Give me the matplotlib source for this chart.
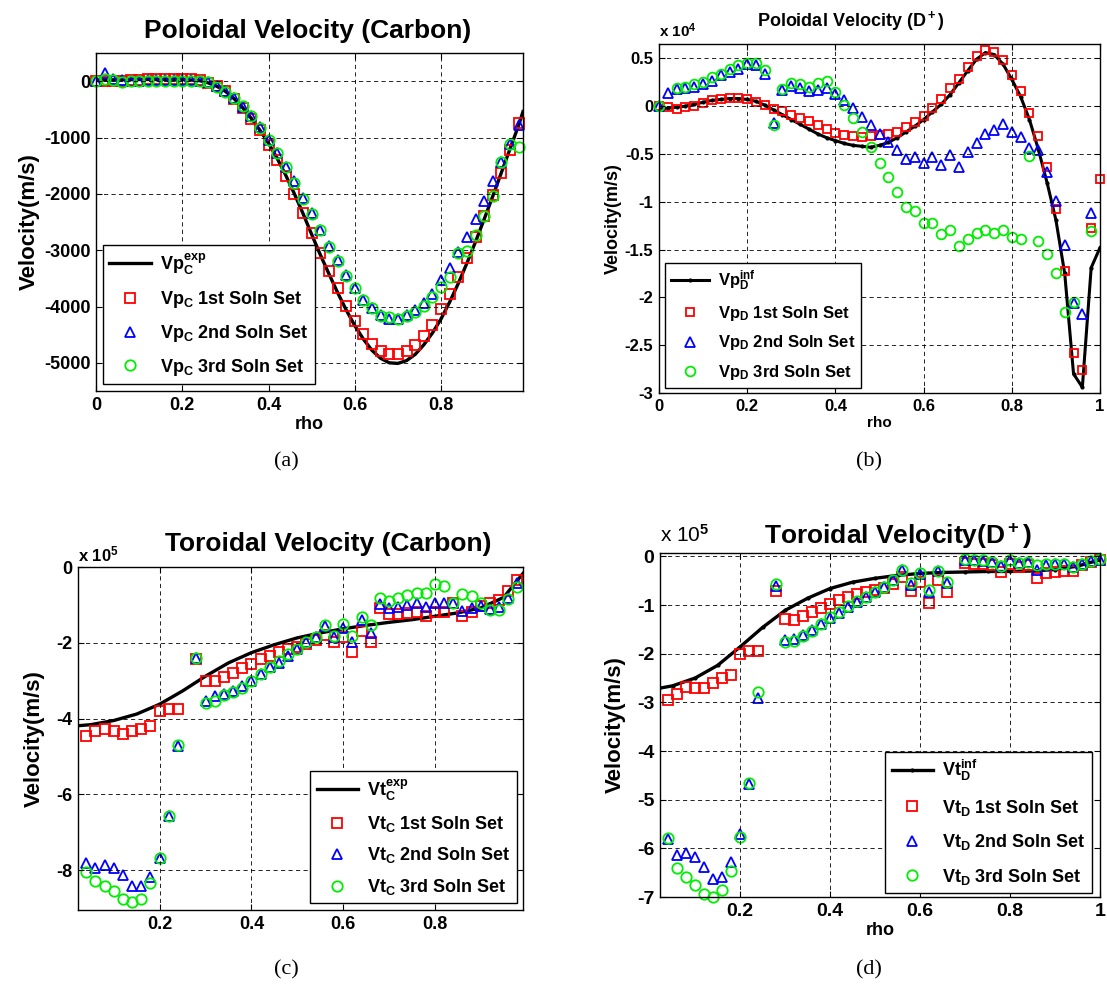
import matplotlib
matplotlib.use('Agg')
import matplotlib.pyplot as plt
from matplotlib.ticker import FuncFormatter
import numpy as np

plt.rcParams['font.family'] = 'Liberation Sans'
plt.rcParams['font.weight'] = 'bold'
plt.rcParams['mathtext.fontset'] = 'custom'
plt.rcParams['mathtext.rm'] = 'Liberation Sans:bold'
plt.rcParams['mathtext.it'] = 'Liberation Sans:bold'
plt.rcParams['mathtext.bf'] = 'Liberation Sans:bold'
plt.rcParams['axes.linewidth'] = 1.0

nan = np.nan
W, H = 1107, 994

# ---------------- (a) poloidal velocity, carbon ----------------
rho_a = np.round(np.arange(0, 0.99, 0.02), 2)
vp_c_1 = [0, 0, 10, 10, 20, 20, 30, 30, 40, 40, 40, 40, 20, -30, -90, -180, -315, -475,
          -670, -860, -1130, -1400, -1690, -2010, -2340, -2690, -3050, -3370, -3680,
          -3990, -4260, -4480, -4660, -4790, -4850, -4840, -4790, -4690, -4530, -4330,
          -4050, -3780, -3480, -3145, -2760, -2400, -2020, -1630, -1220, -740]
vp_c_2 = [0, 150, 30, 20, 10, 10, 20, 20, 20, 20, 20, 20, 10, -20, -90, -180, -300, -450,
          -620, -810, -1040, -1275, -1515, -1780, -2080, -2345, -2640, -2920, -3175,
          -3440, -3680, -3890, -4035, -4150, -4215, -4215, -4150, -4065, -3945, -3770,
          -3530, -3320, -3030, -2760, -2450, -2120, -1780, -1440, -1110, -770]
vp_c_3 = [0, 40, 20, -10, 10, 10, 10, 10, 10, 10, 10, 0, 0, -20, -100, -190, -300, -445,
          -610, -830, -1040, -1275, -1530, -1800, -2090, -2355, -2650, -2940, -3190,
          -3455, -3680, -3890, -4035, -4170, -4195, -4215, -4170, -4095, -3990, -3830,
          -3660, -3470, -3045, -3010, -2730, -2390, -2035, -1440, -1115, -1170]
rho_a_exp = [0, 0.1, 0.2, 0.24, 0.26, 0.28, 0.30, 0.32, 0.34, 0.36, 0.38, 0.40, 0.42,
             0.44, 0.46, 0.48, 0.50, 0.52, 0.54, 0.56, 0.58, 0.60, 0.62, 0.64, 0.66,
             0.68, 0.70, 0.72, 0.74, 0.76, 0.78, 0.80, 0.82, 0.84, 0.86, 0.88, 0.90,
             0.92, 0.94, 0.96, 0.98, 0.99]
vp_c_exp = [20, 30, 30, 10, -30, -90, -180, -310, -470, -660, -870, -1100, -1370,
            -1670, -2000, -2350, -2720, -3080, -3420, -3750, -4060, -4340, -4580,
            -4780, -4920, -5000, -5010, -4960, -4850, -4680, -4470, -4220, -3920,
            -3590, -3230, -2850, -2450, -2040, -1620, -1200, -780, -540]

# ---------------- (b) poloidal velocity, D+ (x 10^4) ----------------
rho_b = np.round(np.arange(0, 1.001, 0.02), 2)
vp_d_1 = [0, -0.01, -0.03, -0.01, 0.0, 0.03, 0.06, 0.07, 0.09, 0.09, 0.07, 0.04, 0.01,
          -0.035, -0.05, -0.09, -0.12, -0.16, -0.20, -0.24, -0.28, -0.30, -0.31, -0.32,
          -0.31, -0.30, -0.29, -0.27, -0.22, -0.17, -0.10, -0.02, 0.08, 0.19, 0.28, 0.41,
          0.52, 0.59, 0.57, 0.48, 0.33, 0.16, -0.07, -0.31, -0.64, -1.08, -1.72, -2.58,
          -2.76, -1.27, -0.76]
vp_d_2 = [0.0, 0.14, 0.175, 0.185, 0.20, 0.235, 0.26, 0.33, 0.36, 0.39, 0.44, 0.43, 0.34,
          -0.18, 0.17, 0.21, 0.19, 0.16, 0.17, 0.19, 0.13, 0.06, -0.02, -0.11, -0.20,
          -0.29, -0.37, -0.46, -0.55, -0.53, -0.59, -0.53, -0.62, -0.51, -0.64, -0.48,
          -0.39, -0.29, -0.245, -0.19, -0.27, -0.32, -0.44, -0.46, -0.69, -0.99, -1.45,
          -2.06, -2.17, -1.12, nan]
vp_d_3 = [0.0, nan, 0.185, 0.20, 0.23, 0.255, 0.30, 0.34, 0.39, 0.43, 0.45, 0.455, 0.38,
          -0.20, 0.175, 0.245, 0.23, 0.20, 0.245, 0.26, 0.15, 0.01, -0.12, -0.27, -0.43,
          -0.59, -0.745, -0.90, -1.05, -1.10, -1.22, -1.22, -1.34, -1.30, -1.46, -1.39,
          -1.33, -1.30, -1.33, -1.30, -1.37, -1.39, -0.52, -1.41, -1.55, -1.75, -2.15,
          -2.05, nan, -1.31, nan]
vp_d_inf = [-0.03, -0.02, -0.01, 0.0, 0.02, 0.04, 0.06, 0.07, 0.08, 0.08, 0.07, 0.05, 0.01,
            -0.04, -0.09, -0.14, -0.19, -0.24, -0.29, -0.33, -0.36, -0.39, -0.41, -0.42,
            -0.43, -0.41, -0.38, -0.33, -0.27, -0.21, -0.14, -0.06, 0.02, 0.12, 0.245,
            0.37, 0.49, 0.56, 0.54, 0.44, 0.28, 0.10, -0.14, -0.45, -0.80, -1.19, -1.75,
            -2.80, -2.94, -1.69, -1.48]

# ---------------- (c) toroidal velocity, carbon (x 10^5) ----------------
rho_c = np.round(np.arange(0.04, 0.99, 0.02), 2)
vt_c_1 = [-4.45, -4.33, -4.27, -4.34, -4.40, -4.34, -4.27, -4.20, -3.81, -3.75, -3.75, nan,
          -2.43, -3.02, -3.02, -2.89, -2.80, -2.67, -2.56, -2.43, -2.34, -2.25, -2.17,
          -2.11, -2.02, -1.93, -1.80, -1.99, -1.86, -2.24, -1.68, -1.97, -1.07, -1.25,
          -1.25, -1.22, -1.20, -1.29, -1.18, -1.18, -0.94, -1.29, -1.18, -1.03, -0.94,
          -0.88, -0.63, -0.35]
vt_c_2 = [-7.82, -7.94, -7.87, -7.94, -8.13, -8.42, -8.42, -8.18, -7.67, -6.58, -4.73, nan,
          -2.40, -3.53, -3.41, -3.35, -3.28, -3.15, -3.00, -2.81, -2.65, -2.52, -2.34,
          -2.17, -1.99, -1.84, -1.55, -1.84, -1.60, -1.99, -1.40, -1.73, -0.98, -1.07,
          -1.05, -1.01, -0.96, -1.05, -0.94, -0.96, -0.94, -1.16, -1.09, -1.03, -1.11,
          -1.05, -0.82, -0.41]
vt_c_3 = [-8.04, -8.28, -8.41, -8.54, -8.77, -8.85, -8.75, -8.35, -7.67, -6.58, -4.69, nan,
          -2.39, -3.59, -3.53, -3.39, -3.29, -3.18, -3.00, -2.82, -2.65, -2.49, -2.30,
          -2.17, -1.99, -1.84, -1.54, -1.82, -1.51, -1.83, -1.33, -1.53, -0.82, -0.89,
          -0.81, -0.74, -0.68, -0.68, -0.46, -0.50, -0.94, -0.72, -0.76, -0.94, -1.14,
          -1.14, -0.85, -0.54]
rho_c_exp = [0.02, 0.05, 0.10, 0.15, 0.20, 0.25, 0.30, 0.35, 0.40, 0.45, 0.50, 0.55, 0.60,
             0.65, 0.70, 0.75, 0.80, 0.85, 0.90, 0.95, 1.00]
vt_c_exp = [-4.19, -4.16, -4.05, -3.88, -3.62, -3.27, -2.88, -2.53, -2.26, -2.05, -1.87,
            -1.74, -1.63, -1.54, -1.46, -1.39, -1.30, -1.21, -1.08, -0.80, -0.05]

# ---------------- (d) toroidal velocity, D+ (x 10^5) ----------------
rho_d = np.round(np.arange(0.04, 1.001, 0.02), 2)
vt_d_1 = [-2.96, -2.83, -2.69, -2.71, -2.71, -2.60, -2.50, -2.43, -2.00, -1.94, -1.94, nan,
          -0.71, -1.29, -1.30, -1.23, -1.14, -1.07, -0.97, -0.90, -0.83, -0.78, -0.73,
          -0.70, -0.64, -0.57, -0.42, -0.72, -0.52, -0.95, -0.49, -0.74, nan, -0.14,
          -0.15, -0.16, -0.18, -0.32, -0.15, -0.22, -0.18, -0.44, -0.35, -0.32, -0.31,
          -0.29, -0.18, -0.12, -0.08]
vt_d_2 = [-5.81, -6.13, -6.10, -6.18, -6.39, -6.64, -6.59, -6.29, -5.71, -4.68, -2.91, nan,
          -0.61, -1.72, -1.70, -1.62, -1.51, -1.38, -1.27, -1.17, -1.04, -0.93, -0.83,
          -0.73, -0.63, -0.49, -0.27, -0.58, -0.37, -0.73, -0.31, -0.55, nan, -0.07,
          -0.08, -0.10, -0.12, -0.19, -0.08, -0.14, -0.12, -0.27, -0.18, -0.16, -0.16,
          -0.22, -0.16, -0.10, -0.07]
vt_d_3 = [-5.79, -6.40, -6.58, -6.76, -6.93, -7.00, -6.86, -6.46, -5.77, -4.66, -2.79, nan,
          -0.57, -1.75, -1.73, -1.64, -1.53, -1.38, -1.25, -1.15, -1.02, -0.92, -0.83,
          -0.73, -0.63, -0.48, -0.27, -0.55, -0.35, -0.70, -0.29, -0.52, nan, -0.06,
          -0.08, -0.08, -0.12, -0.20, -0.07, -0.14, -0.12, -0.18, -0.16, -0.15, -0.15,
          -0.22, -0.16, -0.10, -0.05]
rho_d_inf = [0.02, 0.05, 0.10, 0.15, 0.20, 0.25, 0.30, 0.35, 0.40, 0.45, 0.50, 0.55, 0.60,
             0.65, 0.70, 0.75, 0.80, 0.85, 0.90, 0.95, 1.00]
vt_d_inf = [-2.71, -2.66, -2.50, -2.24, -1.86, -1.46, -1.11, -0.86, -0.66, -0.53, -0.45,
            -0.39, -0.35, -0.33, -0.32, -0.31, -0.31, -0.30, -0.27, -0.20, -0.07]

GREEN = '#00ee00'


def px_box(l, t, r, b):
    return [l / W, 1 - b / H, (r - l) / W, (b - t) / H]


def setup(ax, fs):
    ax.grid(True, color='k', linestyle=(0, (5, 4)), linewidth=0.6)
    ax.set_axisbelow(False)
    ax.tick_params(direction='in', top=True, right=True, length=4, width=0.8,
                   labelsize=fs, pad=4)
    fmt = FuncFormatter(lambda v, p: '%g' % round(v, 6))
    ax.xaxis.set_major_formatter(fmt)
    ax.yaxis.set_major_formatter(fmt)
    for lab in ax.get_xticklabels() + ax.get_yticklabels():
        lab.set_fontweight('bold')


def draw(ax, x, y1, y2, y3, ms=7.5):
    kw = dict(linestyle='none', mfc='none', mew=1.3, clip_on=False)
    ax.plot(x, y1, 's', color='red', ms=ms - 0.7, **kw)
    ax.plot(x, y2, '^', color='blue', ms=ms, **kw)
    ax.plot(x, y3, 'o', color=GREEN, ms=ms, **kw)


def legend(ax, labels, fs, loc, anchor, spacing):
    leg = ax.legend(labels, loc=loc, bbox_to_anchor=anchor, fontsize=fs, fancybox=False,
                    framealpha=1, edgecolor='k', handlelength=2.3, labelspacing=spacing,
                    borderpad=0.35, handletextpad=0.5, borderaxespad=0)
    leg.get_frame().set_linewidth(1.0)
    for t in leg.get_texts():
        t.set_fontweight('bold')


fig = plt.figure(figsize=(W / 100, H / 100), dpi=100)

# (a)
ax = fig.add_axes(px_box(96, 53, 523, 391))
ax.plot(rho_a_exp, vp_c_exp, color='k', lw=2.4)
draw(ax, rho_a, vp_c_1, vp_c_2, vp_c_3)
ax.set_xlim(0, 0.99)
ax.set_ylim(-5500, 500)
ax.set_xticks([0, 0.2, 0.4, 0.6, 0.8])
ax.set_yticks([-5000, -4000, -3000, -2000, -1000, 0])
setup(ax, 13)
ax.set_xlabel('rho', fontsize=13, fontweight='bold', labelpad=2)
ax.set_ylabel('Velocity(m/s)', fontsize=16, fontweight='bold', labelpad=3)
legend(ax, [r'Vp$_C^{exp}$', r'Vp$_C$ 1st Soln Set', r'Vp$_C$ 2nd Soln Set',
            r'Vp$_C$ 3rd Soln Set'], 13, 'lower left', (0.016, 0.021), 0.7)
fig.text(308 / W, 1 - 31 / H, 'Poloidal Velocity (Carbon)', ha='center', va='center',
         fontsize=19, fontweight='bold')

# (b)
ax = fig.add_axes(px_box(659, 44, 1100, 393))
ax.plot(rho_b, vp_d_inf, '.-', color='k', lw=2.2, ms=4)
draw(ax, rho_b, vp_d_1, vp_d_2, vp_d_3, ms=7)
ax.set_xlim(0, 1)
ax.set_ylim(-3, 0.65)
ax.set_xticks([0, 0.2, 0.4, 0.6, 0.8, 1.0])
ax.set_yticks([-3, -2.5, -2, -1.5, -1, -0.5, 0, 0.5])
setup(ax, 12)
ax.set_xlabel('rho', fontsize=11, fontweight='bold', labelpad=2)
ax.set_ylabel('Velocity(m/s)', fontsize=13, fontweight='bold', labelpad=2)
legend(ax, [r'Vp$_D^{inf}$', r'Vp$_D$ 1st Soln Set', r'Vp$_D$ 2nd Soln Set',
            r'Vp$_D$ 3rd Soln Set'], 12, 'lower left', (0.014, 0.014), 0.65)
ax.text(0, 1.012, r'x 10$^4$', transform=ax.transAxes, fontsize=11, fontweight='bold',
        va='bottom', ha='left')
fig.text(851 / W, 1 - 21 / H, r'Poloidal Velocity (D$^+$)', ha='center', va='center',
         fontsize=13, fontweight='bold')

# (c)
ax = fig.add_axes(px_box(78, 567, 523, 910))
ax.plot(rho_c_exp, vt_c_exp, color='k', lw=2.4)
draw(ax, rho_c, vt_c_1, vt_c_2, vt_c_3)
ax.set_xlim(0.022, 0.992)
ax.set_ylim(-9.05, 0)
ax.set_xticks([0.2, 0.4, 0.6, 0.8])
ax.set_yticks([-8, -6, -4, -2, 0])
setup(ax, 13)
ax.set_ylabel('Velocity(m/s)', fontsize=16, fontweight='bold', labelpad=8)
legend(ax, [r'Vt$_C^{exp}$', r'Vt$_C$ 1st Soln Set', r'Vt$_C$ 2nd Soln Set',
            r'Vt$_C$ 3rd Soln Set'], 13, 'lower right', (0.987, 0.02), 0.63)
ax.text(0, 1.008, r'x 10$^5$', transform=ax.transAxes, fontsize=12, fontweight='bold',
        va='bottom', ha='left')
fig.text(328 / W, 1 - 544 / H, 'Toroidal Velocity (Carbon)', ha='center', va='center',
         fontsize=19, fontweight='bold')

# (d)
ax = fig.add_axes(px_box(660, 553, 1100, 897))
ax.plot(rho_d_inf, vt_d_inf, '.-', color='k', lw=2.4, ms=4)
draw(ax, rho_d, vt_d_1, vt_d_2, vt_d_3)
ax.set_xlim(0.022, 1.0)
ax.set_ylim(-7, 0.07)
ax.set_xticks([0.2, 0.4, 0.6, 0.8, 1.0])
ax.set_yticks([-7, -6, -5, -4, -3, -2, -1, 0])
setup(ax, 14)
ax.set_xlabel('rho', fontsize=13, fontweight='bold', labelpad=2)
ax.set_ylabel('Velocity(m/s)', fontsize=16, fontweight='bold', labelpad=8)
legend(ax, [r'Vt$_D^{inf}$', r'Vt$_D$ 1st Soln Set', r'Vt$_D$ 2nd Soln Set',
            r'Vt$_D$ 3rd Soln Set'], 13, 'lower right', (0.982, 0.012), 0.8)
ax.text(0, 1.02, r'x 10$^5$', transform=ax.transAxes, fontsize=15, fontweight='normal',
        va='bottom', ha='left')
fig.text(898 / W, 1 - 536 / H, r'Toroidal Velocity(D$^+$)', ha='center', va='center',
         fontsize=19, fontweight='bold')

# captions
for lab, cx, cy in [('(a)', 286, 462), ('(b)', 869, 462), ('(c)', 286, 970),
                    ('(d)', 869, 970)]:
    fig.text(cx / W, 1 - cy / H, lab, ha='center', va='center', fontsize=16,
             family='Liberation Serif', fontweight='normal')

fig.savefig('out.png', dpi=100)
